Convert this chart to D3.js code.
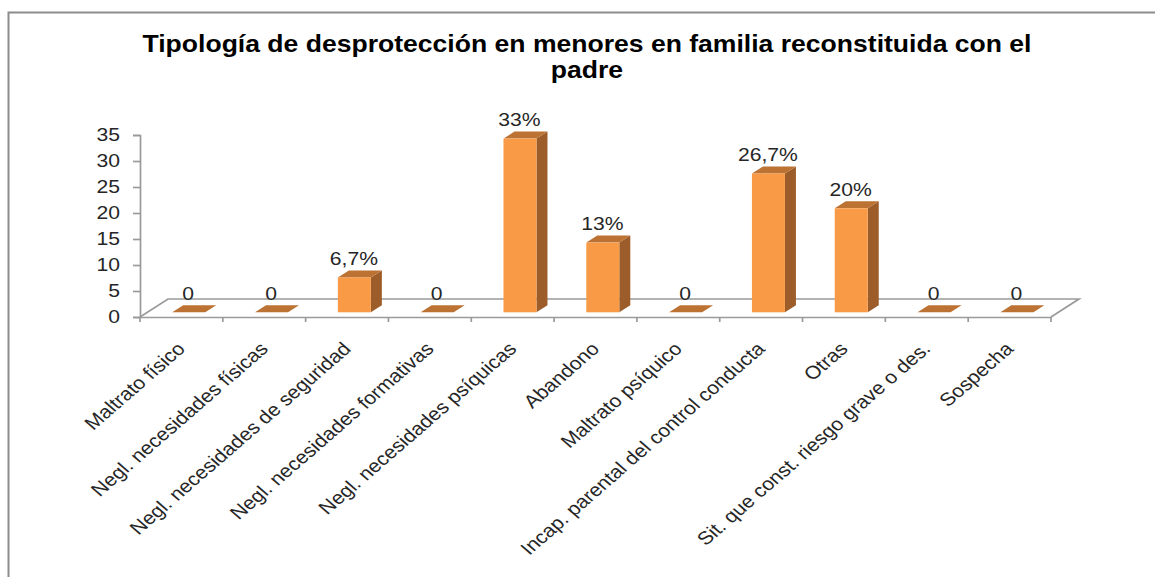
<!DOCTYPE html>
<html><head><meta charset="utf-8">
<script src="https://cdnjs.cloudflare.com/ajax/libs/d3/7.8.5/d3.min.js"></script>
<style>html,body{margin:0;padding:0;background:#fff;overflow:hidden}svg{display:block}text{font-family:"Liberation Sans",Arial,sans-serif;fill:#262626}</style>
</head><body>
<script>
const categories=["Maltrato físico","Negl. necesidades físicas","Negl. necesidades de seguridad","Negl.  necesidades formativas","Negl. necesidades psíquicas","Abandono","Maltrato psíquico","Incap. parental del control conducta","Otras","Sit. que const. riesgo grave o des.","Sospecha"];
const values=[0,0,6.7,0,33.4,13.4,0,26.7,20,0,0];
const valueLabels=["0","0","6,7%","0","33%","13%","0","26,7%","20%","0","0"];
const yTicks=[0,5,10,15,20,25,30,35];
const titleLines=["Tipología de desprotección en menores en familia reconstituida con el","padre"];

const W=1155,H=577;
const svg=d3.select("body").append("svg").attr("width",W).attr("height",H);
const x=d3.scaleBand().domain(categories).range([140,1051]).paddingInner(0).paddingOuter(0);
const y=d3.scaleLinear().domain([0,35]).range([317,135]);
const floorDx=28,floorDy=-18;
const barW=33,barDx=11,barDy=-7,baseUp=4.7,baseRight=7.3;
const axisCol="#9a9a9a";
const stretch=1.15;

svg.append("path").attr("d",`M8.5,${H}V12.5H${W}`).attr("fill","none").attr("stroke","#8c8c8c").attr("stroke-width",2);

// title
svg.selectAll("text.title").data(titleLines).join("text").attr("class","title")
 .attr("transform",(d,i)=>`translate(587,${51.5+i*26.5}) scale(1.155,1)`).attr("text-anchor","middle")
 .attr("font-size",23).attr("font-weight","bold").style("fill","#000").text(d=>d);

// floor
const x0=x.range()[0],x1=x.range()[1],y0=y(0);
svg.append("path").attr("d",`M${x0},${y0}L${x0+floorDx},${y0+floorDy}L${x1+floorDx},${y0+floorDy}L${x1},${y0}`)
 .attr("fill","none").attr("stroke",axisCol).attr("stroke-width",1.7);

// axes
const yAxis=d3.axisLeft(y).tickValues(yTicks).tickSize(7).tickPadding(6);
const gy=svg.append("g").attr("transform",`translate(${x0},0)`).call(yAxis);
gy.selectAll("path,line").attr("stroke",axisCol).attr("stroke-width",1.7);
gy.selectAll("text").attr("font-size",18.4).attr("font-family",null).attr("x",0).attr("transform",`translate(-20,0) scale(${stretch},1)`);

const xAxis=d3.axisBottom(x).tickSize(0).tickFormat("");
const gx=svg.append("g").attr("transform",`translate(0,${y0})`).call(xAxis);
gx.select("path").attr("stroke",axisCol).attr("stroke-width",1.7);
gx.selectAll("g.tick").remove();
gx.selectAll("line.edge").data(d3.range(categories.length+1)).join("line").attr("class","edge")
 .attr("x1",i=>x0+i*x.step()).attr("x2",i=>x0+i*x.step()).attr("y1",0).attr("y2",5)
 .attr("stroke",axisCol).attr("stroke-width",1.7);

// bars
const bars=svg.selectAll("g.bar").data(categories.map((c,i)=>({c,v:values[i],l:valueLabels[i]}))).join("g").attr("class","bar");
const bx=d=>x(d.c)+(x.step()-barW)/2+baseRight;
const base=y0-baseUp;
const barTop=d=>base-(y(0)-y(d.v));
bars.append("path").attr("fill","#9c5d2a").attr("d",d=>{const a=bx(d)+barW,t=barTop(d);return `M${a},${t}L${a+barDx},${t+barDy}L${a+barDx},${base+barDy}L${a},${base}Z`;});
bars.append("path").attr("fill","#bb7233").attr("d",d=>{const a=bx(d),t=barTop(d);return `M${a},${t}L${a+barDx},${t+barDy}L${a+barW+barDx},${t+barDy}L${a+barW},${t}Z`;});
bars.append("rect").attr("fill","#f99b46").attr("x",bx).attr("y",barTop).attr("width",barW).attr("height",d=>base-barTop(d));
bars.append("text").attr("text-anchor","middle").attr("font-size",18.4)
 .attr("transform",d=>`translate(${bx(d)+barW/2-0.5},${barTop(d)+barDy-5.5}) scale(${stretch},1)`).text(d=>d.l);

// category labels
svg.selectAll("text.cat").data(categories).join("text").attr("class","cat")
 .attr("text-anchor","end").attr("font-size",18.4)
 .attr("transform",d=>`translate(${x(d)+x.step()/2+5},${y0+33}) scale(1.15,1) rotate(-45)`)
 .text(d=>d);
</script>
</body></html>
